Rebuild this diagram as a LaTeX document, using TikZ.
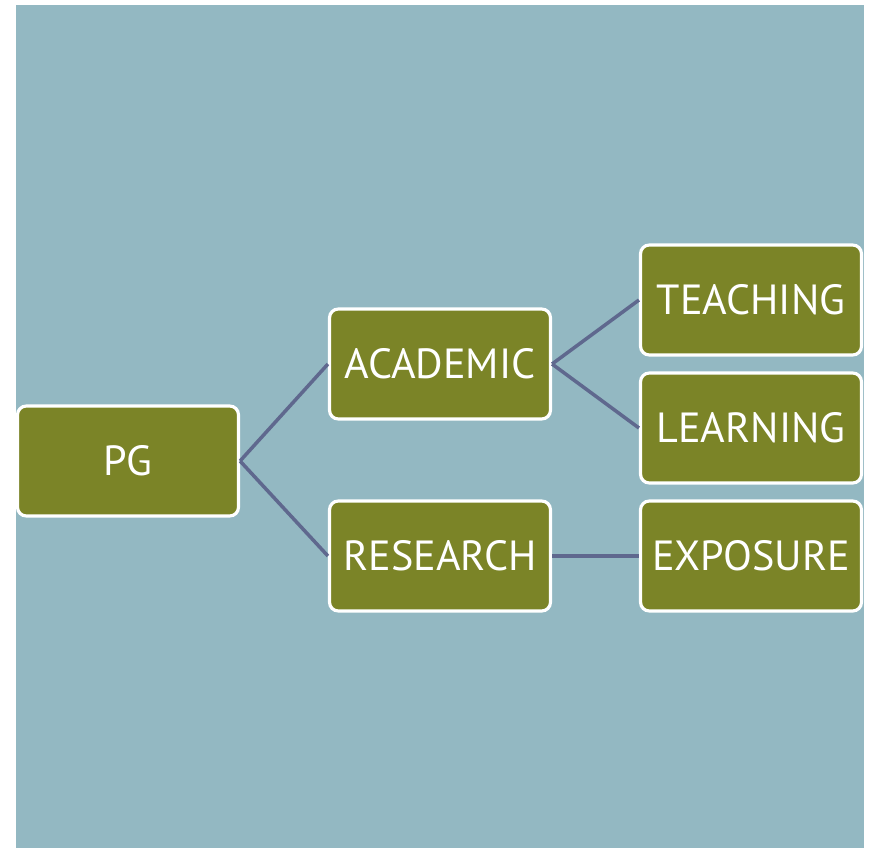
\documentclass[tikz,border=0pt]{standalone}
\usepackage{fontspec}
\setmainfont{PT Sans}
\usetikzlibrary{positioning}
\definecolor{panel}{HTML}{93B8C2}
\definecolor{olive}{HTML}{7B8427}
\definecolor{slate}{HTML}{5F688E}

\begin{document}
\begin{tikzpicture}[x=0.02cm, y=-0.02cm]
    \tikzstyle{box} = [rectangle, rounded corners=5pt, minimum width=4.42cm, minimum height=2.2cm, text centered, draw=white, line width=1.8pt, fill=olive, text=white, font=\fontsize{24}{29}\selectfont]
    \tikzstyle{link} = [line width=2pt, draw=slate]

    \useasboundingbox (0,0) rectangle (871,848);
    \fill[panel] (16,5) rectangle (864,848);

    \node[box] (pg) at (128,461) {PG};
    \node[box] (academic) at (440,364) {ACADEMIC};
    \node[box] (research) at (440,556) {RESEARCH};
    \node[box] (teaching) at (751,300) {TEACHING};
    \node[box] (learning) at (751,428) {LEARNING};
    \node[box] (exposure) at (751,556) {EXPOSURE};

    \draw[link] (pg.east) -- (academic.west);
    \draw[link] (pg.east) -- (research.west);
    \draw[link] (academic.east) -- (teaching.west);
    \draw[link] (academic.east) -- (learning.west);
    \draw[link] (research.east) -- (exposure.west);
\end{tikzpicture}
\end{document}
